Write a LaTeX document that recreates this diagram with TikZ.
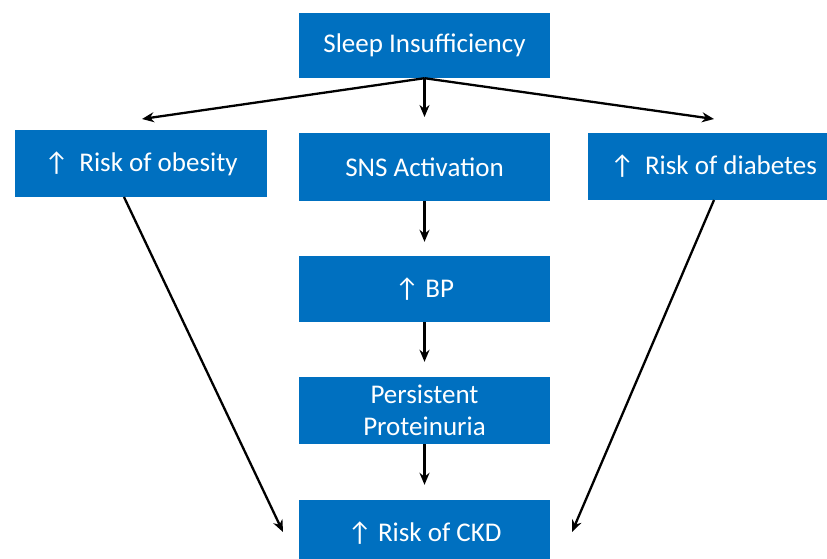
\documentclass[tikz,border=0pt]{standalone}
\usepackage{fontspec}
\setmainfont{Carlito}
\usetikzlibrary{arrows.meta}
\definecolor{boxblue}{RGB}{0,112,192}
\tikzset{
  box/.style={rectangle, fill=boxblue, text=white, inner sep=0pt,
    minimum width=251pt, minimum height=66pt, align=center,
    font=\fontsize{27}{32}\selectfont},
  link/.style={line width=2.3pt, -{Stealth[length=12pt,width=10pt]}}
}
\begin{document}
\begin{tikzpicture}[x=1pt,y=-1pt]
  \useasboundingbox (0,0) rectangle (827,559);

  % boxes
  \node[box, minimum height=65pt] (sleep) at (424.5,45.5) {Sleep Insufficiency};
  \node[box, minimum width=252pt, minimum height=67pt] (obesity) at (141,163.5) {↑\, Risk of obesity};
  \node[box, minimum height=68pt] (sns) at (424.5,167) {SNS Activation};
  \node[box, minimum height=67pt] (diabetes) at (713.5,166.5) {↑\, Risk of diabetes};
  \node[box] (bp) at (424.5,289) {↑ BP};
  \node[box, minimum height=67pt] (prot) at (424.5,410.5) {Persistent\\Proteinuria};
  \node[box] (ckd) at (424.5,533) {↑ Risk of CKD};

  % arrow ends that stop short of their boxes
  \coordinate (obIn) at (142,119);
  \coordinate (snsIn) at (424.5,117);
  \coordinate (diIn) at (714,119);
  \coordinate (obOut) at (124,197);
  \coordinate (diOut) at (714,200);
  \coordinate (ckdL) at (283,532);
  \coordinate (ckdR) at (572,532);

  % connectors
  \draw[link] (sleep.south) -- (obIn);
  \draw[link] (sleep.south) -- (snsIn);
  \draw[link] (sleep.south) -- (diIn);
  \draw[link, shorten >=14pt] (sns.south) -- (bp.north);
  \draw[link, shorten >=15pt] (bp.south) -- (prot.north);
  \draw[link, shorten >=15pt] (prot.south) -- (ckd.north);
  \draw[link] (obOut) -- (ckdL);
  \draw[link] (diOut) -- (ckdR);
\end{tikzpicture}
\end{document}
